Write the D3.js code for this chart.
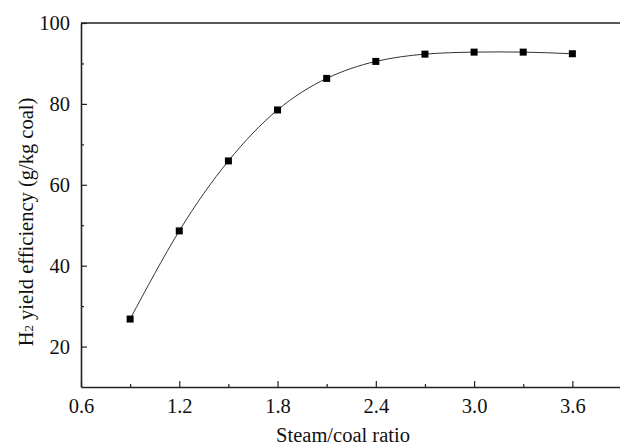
<!DOCTYPE html>
<html>
<head>
<meta charset="utf-8">
<script src="https://cdn.jsdelivr.net/npm/d3@7"></script>
<style>
  body { margin: 0; background: #fff; }
  svg { display: block; }
</style>
</head>
<body>
<svg id="chart" width="620" height="446"></svg>
<script>
// steam/coal ratio vs H2 yield
const ratios = [0.9, 1.2, 1.5, 1.8, 2.1, 2.4, 2.7, 3.0, 3.3, 3.6];
const yields = [26.8, 48.6, 65.9, 78.5, 86.3, 90.5, 92.3, 92.8, 92.8, 92.4];
const xTicks = [0.6, 1.2, 1.8, 2.4, 3.0, 3.6];
const xMinor = [0.9, 1.5, 2.1, 2.7, 3.3];
const yTicks = [20, 40, 60, 80, 100];
const yMinor = [30, 50, 70, 90];

const margin = {top: 23, right: 0, bottom: 59, left: 81};
const W = 620, H = 446;
const svg = d3.select('#chart');

const x = d3.scaleLinear().domain([0.6, 3.9]).range([margin.left, 621.5]);
const y = d3.scaleLinear().domain([10, 100]).range([387, margin.top]);

const fs = 20.5;
const serif = 'Liberation Serif, Times New Roman, Times, DejaVu Serif, serif';

// x axis, ticks pointing inward
const gx = svg.append('g').attr('transform', `translate(0,${y(10)})`);
gx.call(d3.axisBottom(x).tickValues(xTicks).tickFormat(d3.format('.1f'))
        .tickSizeInner(-6).tickSizeOuter(0).tickPadding(11));
gx.append('g').call(d3.axisBottom(x).tickValues(xMinor).tickFormat('')
        .tickSizeInner(-3).tickSizeOuter(0))
    .select('.domain').remove();

// y axis
const gy = svg.append('g').attr('transform', `translate(${x(0.6)},0)`);
gy.call(d3.axisLeft(y).tickValues(yTicks).tickFormat(d3.format('d'))
        .tickSizeInner(-6).tickSizeOuter(0).tickPadding(11));
gy.append('g').call(d3.axisLeft(y).tickValues(yMinor).tickFormat('')
        .tickSizeInner(-3).tickSizeOuter(0))
    .select('.domain').remove();

svg.selectAll('g').attr('font-family', null);
svg.selectAll('.domain').attr('stroke', '#222').attr('stroke-width', 1.6);
svg.selectAll('.tick line').attr('stroke', '#222').attr('stroke-width', 1.2);
svg.selectAll('.tick text').attr('font-size', fs).attr('fill', '#111')
    .style('font-family', serif);

// top frame line
svg.append('line')
    .attr('x1', x(0.6)).attr('x2', W)
    .attr('y1', y(100)).attr('y2', y(100))
    .attr('stroke', '#222').attr('stroke-width', 1.6);

// fitted curve
const pts = ratios.map((r, i) => [r, yields[i]]);
svg.append('path')
    .datum(pts)
    .attr('fill', 'none')
    .attr('stroke', '#333')
    .attr('stroke-width', 1)
    .attr('d', d3.line().x(d => x(d[0])).y(d => y(d[1])).curve(d3.curveNatural));

// markers
svg.append('g').selectAll('rect')
    .data(pts).enter().append('rect')
    .attr('x', d => x(d[0]) - 3.5)
    .attr('y', d => y(d[1]) - 3.5)
    .attr('width', 7).attr('height', 7)
    .attr('fill', '#000');

// axis titles
svg.append('text')
    .attr('x', 343).attr('y', 442)
    .attr('text-anchor', 'middle')
    .style('font-family', serif)
    .attr('font-size', fs).attr('fill', '#111')
    .text('Steam/coal ratio');

const yl = svg.append('text')
    .attr('transform', 'translate(33,222) rotate(-90)')
    .attr('text-anchor', 'middle')
    .style('font-family', serif)
    .attr('font-size', fs).attr('fill', '#111');
yl.append('tspan').text('H');
yl.append('tspan').attr('font-size', 13).text('2');
yl.append('tspan').text(' yield efficiency (g/kg coal)');
</script>
</body>
</html>
